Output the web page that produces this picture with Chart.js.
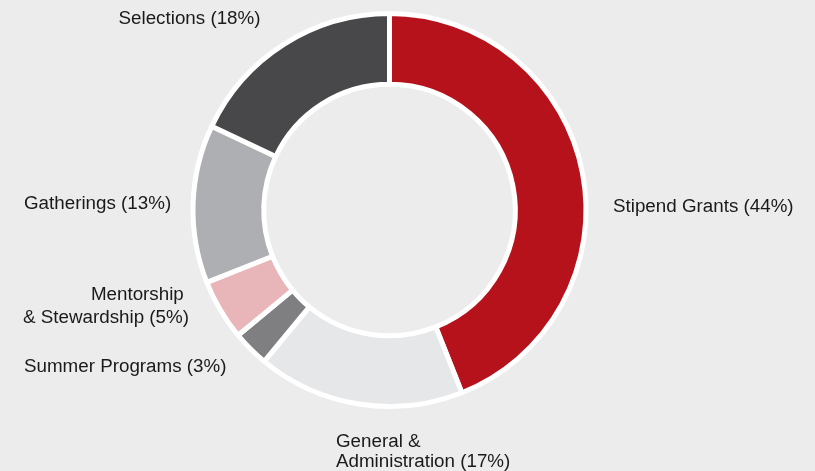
<!DOCTYPE html>
<html>
<head>
<meta charset="utf-8">
<script src="https://cdn.jsdelivr.net/npm/chart.js@4/dist/chart.umd.min.js"></script>
<style>
  html, body { margin: 0; padding: 0; background: #ececec; }
  #wrap { width: 815px; height: 471px; position: relative; }
</style>
</head>
<body>
<div id="wrap"><canvas id="budgetChart"></canvas></div>
<script>
const categories = [
  'Stipend Grants',
  'General & Administration',
  'Summer Programs',
  'Mentorship & Stewardship',
  'Gatherings',
  'Selections'
];
const shares = [44, 17, 3, 5, 13, 18];
const sliceColors = ['#b5121b', '#e6e7e9', '#7f7f82', '#e8b5b8', '#aeafb2', '#48484a'];

// label text per slice (line breaks where the text wraps)
const labelLines = [
  ['Stipend Grants (44%)'],
  ['General &', 'Administration (17%)'],
  ['Summer Programs (3%)'],
  ['Mentorship ', '& Stewardship (5%)'],
  ['Gatherings (13%)'],
  ['Selections (18%)']
];

// where each label sits, as offsets from the ring centre
const labelLayout = [
  { dx: 223.5, dy: 2, align: 'left', lh: 20 },
  { dx: -53.5, dy: 236.7, align: 'left', lh: 20 },
  { dx: -365.5, dy: 161.7, align: 'left', lh: 20 },
  { dx: -200.5, dy: 90, align: 'right', lh: 23 },
  { dx: -365.5, dy: -1, align: 'left', lh: 20 },
  { dx: -200, dy: -186, align: 'center', lh: 20 }
];

const outsideLabels = {
  id: 'outsideLabels',
  afterDatasetsDraw(chart) {
    const ctx = chart.ctx;
    const arcs = chart.getDatasetMeta(0).data;
    if (!arcs.length) return;
    const cx = arcs[0].x;
    const cy = arcs[0].y;
    ctx.save();
    ctx.font = '18.8px "Liberation Sans", Arial, sans-serif';
    ctx.fillStyle = '#1a1a1a';
    ctx.textBaseline = 'alphabetic';
    labelLines.forEach((lines, i) => {
      const pos = labelLayout[i];
      ctx.textAlign = pos.align;
      lines.forEach((line, j) => {
        ctx.fillText(line, cx + pos.dx, cy + pos.dy + j * pos.lh);
      });
    });
    ctx.restore();
  }
};

new Chart(document.getElementById('budgetChart'), {
  type: 'doughnut',
  data: {
    labels: categories,
    datasets: [{
      data: shares,
      backgroundColor: sliceColors,
      borderColor: '#ffffff',
      borderWidth: 5,
      hoverOffset: 0
    }]
  },
  options: {
    responsive: true,
    maintainAspectRatio: false,
    animation: false,
    cutout: '64%',
    layout: {
      padding: { top: 11, bottom: 62, left: 0, right: 36 }
    },
    plugins: {
      legend: { display: false },
      tooltip: { enabled: false }
    }
  },
  plugins: [outsideLabels]
});
</script>
</body>
</html>
